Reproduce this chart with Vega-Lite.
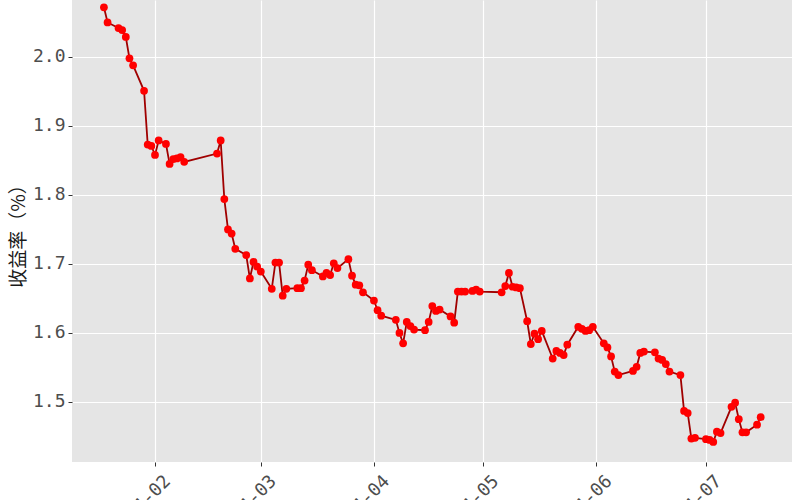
{
  "$schema": "https://vega.github.io/schema/vega-lite/v6.json",
  "width": 720,
  "height": 462,
  "autosize": {"type": "none"},
  "padding": {"left": 72, "top": 0, "right": 8, "bottom": 38},
  "background": "white",
  "data": {
    "values": [
      {"date": "2024-01-18", "yield": 2.072},
      {"date": "2024-01-19", "yield": 2.050},
      {"date": "2024-01-22", "yield": 2.042},
      {"date": "2024-01-23", "yield": 2.039},
      {"date": "2024-01-24", "yield": 2.029},
      {"date": "2024-01-25", "yield": 1.998},
      {"date": "2024-01-26", "yield": 1.988},
      {"date": "2024-01-29", "yield": 1.951},
      {"date": "2024-01-30", "yield": 1.873},
      {"date": "2024-01-31", "yield": 1.871},
      {"date": "2024-02-01", "yield": 1.858},
      {"date": "2024-02-02", "yield": 1.879},
      {"date": "2024-02-04", "yield": 1.874},
      {"date": "2024-02-05", "yield": 1.845},
      {"date": "2024-02-06", "yield": 1.852},
      {"date": "2024-02-07", "yield": 1.853},
      {"date": "2024-02-08", "yield": 1.855},
      {"date": "2024-02-09", "yield": 1.848},
      {"date": "2024-02-18", "yield": 1.860},
      {"date": "2024-02-19", "yield": 1.879},
      {"date": "2024-02-20", "yield": 1.794},
      {"date": "2024-02-21", "yield": 1.750},
      {"date": "2024-02-22", "yield": 1.744},
      {"date": "2024-02-23", "yield": 1.722},
      {"date": "2024-02-26", "yield": 1.713},
      {"date": "2024-02-27", "yield": 1.679},
      {"date": "2024-02-28", "yield": 1.703},
      {"date": "2024-02-29", "yield": 1.696},
      {"date": "2024-03-01", "yield": 1.689},
      {"date": "2024-03-04", "yield": 1.664},
      {"date": "2024-03-05", "yield": 1.702},
      {"date": "2024-03-06", "yield": 1.702},
      {"date": "2024-03-07", "yield": 1.654},
      {"date": "2024-03-08", "yield": 1.664},
      {"date": "2024-03-11", "yield": 1.665},
      {"date": "2024-03-12", "yield": 1.665},
      {"date": "2024-03-13", "yield": 1.676},
      {"date": "2024-03-14", "yield": 1.699},
      {"date": "2024-03-15", "yield": 1.691},
      {"date": "2024-03-18", "yield": 1.682},
      {"date": "2024-03-19", "yield": 1.687},
      {"date": "2024-03-20", "yield": 1.684},
      {"date": "2024-03-21", "yield": 1.701},
      {"date": "2024-03-22", "yield": 1.694},
      {"date": "2024-03-25", "yield": 1.707},
      {"date": "2024-03-26", "yield": 1.683},
      {"date": "2024-03-27", "yield": 1.670},
      {"date": "2024-03-28", "yield": 1.669},
      {"date": "2024-03-29", "yield": 1.659},
      {"date": "2024-04-01", "yield": 1.647},
      {"date": "2024-04-02", "yield": 1.633},
      {"date": "2024-04-03", "yield": 1.625},
      {"date": "2024-04-07", "yield": 1.619},
      {"date": "2024-04-08", "yield": 1.600},
      {"date": "2024-04-09", "yield": 1.585},
      {"date": "2024-04-10", "yield": 1.616},
      {"date": "2024-04-11", "yield": 1.610},
      {"date": "2024-04-12", "yield": 1.605},
      {"date": "2024-04-15", "yield": 1.604},
      {"date": "2024-04-16", "yield": 1.616},
      {"date": "2024-04-17", "yield": 1.639},
      {"date": "2024-04-18", "yield": 1.632},
      {"date": "2024-04-19", "yield": 1.634},
      {"date": "2024-04-22", "yield": 1.624},
      {"date": "2024-04-23", "yield": 1.615},
      {"date": "2024-04-24", "yield": 1.660},
      {"date": "2024-04-25", "yield": 1.660},
      {"date": "2024-04-26", "yield": 1.660},
      {"date": "2024-04-28", "yield": 1.661},
      {"date": "2024-04-29", "yield": 1.663},
      {"date": "2024-04-30", "yield": 1.660},
      {"date": "2024-05-06", "yield": 1.659},
      {"date": "2024-05-07", "yield": 1.668},
      {"date": "2024-05-08", "yield": 1.687},
      {"date": "2024-05-09", "yield": 1.667},
      {"date": "2024-05-10", "yield": 1.666},
      {"date": "2024-05-11", "yield": 1.665},
      {"date": "2024-05-13", "yield": 1.617},
      {"date": "2024-05-14", "yield": 1.584},
      {"date": "2024-05-15", "yield": 1.599},
      {"date": "2024-05-16", "yield": 1.591},
      {"date": "2024-05-17", "yield": 1.603},
      {"date": "2024-05-20", "yield": 1.563},
      {"date": "2024-05-21", "yield": 1.574},
      {"date": "2024-05-22", "yield": 1.571},
      {"date": "2024-05-23", "yield": 1.568},
      {"date": "2024-05-24", "yield": 1.583},
      {"date": "2024-05-27", "yield": 1.609},
      {"date": "2024-05-28", "yield": 1.606},
      {"date": "2024-05-29", "yield": 1.603},
      {"date": "2024-05-30", "yield": 1.604},
      {"date": "2024-05-31", "yield": 1.609},
      {"date": "2024-06-03", "yield": 1.585},
      {"date": "2024-06-04", "yield": 1.579},
      {"date": "2024-06-05", "yield": 1.566},
      {"date": "2024-06-06", "yield": 1.544},
      {"date": "2024-06-07", "yield": 1.539},
      {"date": "2024-06-11", "yield": 1.545},
      {"date": "2024-06-12", "yield": 1.551},
      {"date": "2024-06-13", "yield": 1.571},
      {"date": "2024-06-14", "yield": 1.573},
      {"date": "2024-06-17", "yield": 1.572},
      {"date": "2024-06-18", "yield": 1.563},
      {"date": "2024-06-19", "yield": 1.561},
      {"date": "2024-06-20", "yield": 1.555},
      {"date": "2024-06-21", "yield": 1.544},
      {"date": "2024-06-24", "yield": 1.539},
      {"date": "2024-06-25", "yield": 1.487},
      {"date": "2024-06-26", "yield": 1.484},
      {"date": "2024-06-27", "yield": 1.447},
      {"date": "2024-06-28", "yield": 1.448},
      {"date": "2024-07-01", "yield": 1.446},
      {"date": "2024-07-02", "yield": 1.445},
      {"date": "2024-07-03", "yield": 1.442},
      {"date": "2024-07-04", "yield": 1.457},
      {"date": "2024-07-05", "yield": 1.455},
      {"date": "2024-07-08", "yield": 1.493},
      {"date": "2024-07-09", "yield": 1.499},
      {"date": "2024-07-10", "yield": 1.475},
      {"date": "2024-07-11", "yield": 1.456},
      {"date": "2024-07-12", "yield": 1.456},
      {"date": "2024-07-15", "yield": 1.467},
      {"date": "2024-07-16", "yield": 1.478}
    ]
  },
  "encoding": {
    "x": {
      "field": "date",
      "type": "temporal",
      "scale": {
        "type": "utc",
        "domain": [
          {"year": 2024, "month": 1, "date": 9, "hours": 6, "utc": true},
          {"year": 2024, "month": 7, "date": 24, "hours": 14, "utc": true}
        ],
        "nice": false
      },
      "axis": {
        "title": null,
        "values": [
          {"year": 2024, "month": 2, "date": 1, "utc": true},
          {"year": 2024, "month": 3, "date": 1, "utc": true},
          {"year": 2024, "month": 4, "date": 1, "utc": true},
          {"year": 2024, "month": 5, "date": 1, "utc": true},
          {"year": 2024, "month": 6, "date": 1, "utc": true},
          {"year": 2024, "month": 7, "date": 1, "utc": true}
        ],
        "labelExpr": "utcFormat(datum.value, '%Y-%m')",
        "labelAngle": -45,
        "labelAlign": "right",
        "labelBaseline": "top",
        "labelPadding": 6,
        "labelOffset": 6
      }
    },
    "y": {
      "field": "yield",
      "type": "quantitative",
      "scale": {"domain": [1.413, 2.0826], "zero": false, "nice": false},
      "axis": {
        "title": "收益率（%）",
        "values": [1.5, 1.6, 1.7, 1.8, 1.9, 2.0],
        "format": ".1f",
        "labelPadding": 3,
        "titlePadding": 4
      }
    }
  },
  "layer": [
    {"mark": {"type": "line", "color": "#A00000", "strokeWidth": 1.8}},
    {"mark": {"type": "point", "filled": true, "color": "#FF0000", "size": 60, "opacity": 1}}
  ],
  "config": {
    "view": {"fill": "#E5E5E5", "stroke": null},
    "axis": {
      "domain": false,
      "grid": true,
      "gridColor": "#FFFFFF",
      "gridWidth": 1.2,
      "tickColor": "#333333",
      "tickSize": 4,
      "tickWidth": 1,
      "labelColor": "#4D4D4D",
      "labelFont": "DejaVu Sans Mono",
      "labelFontSize": 18,
      "titleFont": "Noto Sans CJK SC",
      "titleFontSize": 19,
      "titleFontWeight": "normal",
      "titleColor": "#1A1A1A",
      "labelOverlap": false,
      "labelBound": false,
      "labelFlush": false
    }
  }
}
